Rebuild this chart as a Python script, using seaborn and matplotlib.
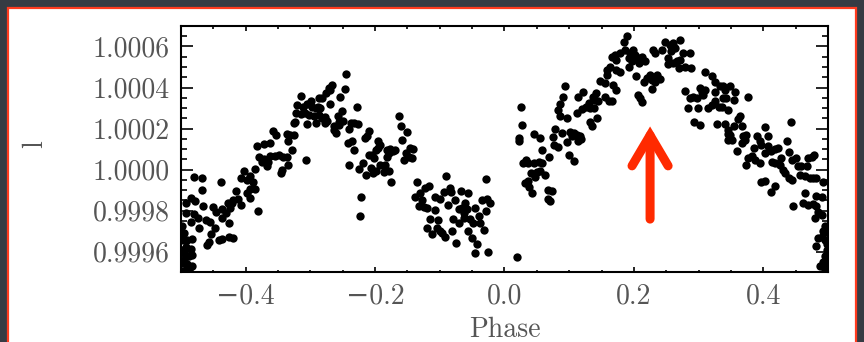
import numpy as np
import pandas as pd
import matplotlib
matplotlib.use("Agg")
import matplotlib.pyplot as plt
from matplotlib.ticker import MultipleLocator, FuncFormatter
from matplotlib.patches import Rectangle
import seaborn as sns

# Folded light curve: orbital phase and departure of the flux from unity (units of 1e-4)
phase_a = [-0.358, -0.353, -0.336, -0.382, -0.372, -0.363, -0.380, -0.371, -0.362, -0.354,
           -0.349, -0.343, -0.336, -0.375, -0.367, -0.366, -0.346, -0.344, -0.334, -0.402,
           -0.385, -0.407, -0.398, -0.393, -0.389, -0.394, -0.386, -0.398, -0.393, -0.415,
           -0.412, -0.419, -0.421, -0.408, -0.480, -0.467, -0.438, -0.468, -0.484, -0.478,
           -0.466, -0.493, -0.451, -0.446, -0.437, -0.428, -0.425, -0.431, -0.381, -0.493,
           -0.480, -0.473, -0.485, -0.461, -0.455, -0.437, -0.426, -0.447, -0.472, -0.454,
           -0.442, -0.437, -0.426, -0.420, -0.496, -0.491, -0.483, -0.493, -0.485, -0.460,
           -0.457, -0.496, -0.488, -0.483, -0.496, -0.491, -0.483, -0.493, -0.497, -0.488,
           -0.498, -0.497, -0.499, -0.499, -0.499]
dflux_a = [1.89, 1.69, 1.74, 1.17, 1.24, 1.28, 0.63, 0.52, 0.67, 0.68,
           0.72, 0.60, 0.60, 0.39, 0.15, 0.36, -0.18, -0.02, 0.23, -0.05,
           0.02, -0.42, -0.50, -0.31, -0.59, -0.96, -0.94, -1.15, -1.40, -1.07,
           -1.43, -1.48, -1.64, -1.72, -0.37, -0.42, -0.62, -1.02, -1.40, -1.56,
           -1.76, -1.64, -1.85, -2.05, -1.93, -1.64, -1.89, -2.13, -2.00, -2.13,
           -2.18, -2.37, -2.54, -2.46, -2.54, -2.37, -2.62, -2.86, -2.86, -3.14,
           -3.43, -3.40, -3.27, -3.32, -3.11, -3.43, -3.38, -3.76, -3.89, -3.67,
           -3.56, -4.08, -4.24, -4.16, -4.41, -4.60, -4.73, -4.89, -4.95, -4.90,
           -2.78, -3.43, -3.95, -4.55, -3.20]

phase_b = [-0.245, -0.267, -0.272, -0.276, -0.269, -0.247, -0.255, -0.282, -0.286, -0.315,
           -0.321, -0.312, -0.305, -0.299, -0.297, -0.292, -0.288, -0.285, -0.269, -0.228,
           -0.322, -0.314, -0.308, -0.302, -0.295, -0.287, -0.282, -0.277, -0.274, -0.324,
           -0.326, -0.305, -0.291, -0.278, -0.257, -0.251, -0.256, -0.250, -0.263, -0.256,
           -0.260, -0.264, -0.238, -0.233, -0.227, -0.241, -0.331, -0.326, -0.334, -0.328,
           -0.307, -0.242, -0.236, -0.233, -0.241, -0.209, -0.215, -0.212, -0.196, -0.192,
           -0.199, -0.210, -0.205, -0.195, -0.201, -0.219, -0.225, -0.214, -0.207, -0.204,
           -0.199, -0.192, -0.182, -0.177, -0.173, -0.170, -0.182, -0.179, -0.184, -0.187,
           -0.179, -0.175, -0.222, -0.223]
dflux_b = [4.67, 4.13, 3.97, 3.72, 3.89, 3.92, 3.56, 3.51, 3.48, 3.59,
           3.15, 3.07, 3.20, 3.32, 3.07, 2.99, 3.07, 2.99, 3.19, 3.07,
           2.75, 2.72, 2.78, 2.67, 2.62, 2.67, 2.50, 2.55, 2.39, 2.34,
           2.26, 2.21, 2.26, 2.26, 2.62, 2.83, 2.34, 2.37, 2.10, 2.15,
           1.80, 1.93, 2.26, 2.26, 2.23, 1.97, 1.69, 1.69, 1.37, 0.96,
           0.46, 1.28, 1.37, 0.93, 0.20, 1.90, 1.56, 1.61, 1.40, 1.20,
           0.96, 0.72, 0.72, 1.04, 0.55, 0.34, 0.02, -0.26, 0.07, -0.18,
           -0.07, 0.23, 0.96, 0.99, 0.88, 0.96, 0.63, 0.80, 0.23, -0.10,
           -0.07, -0.59, -1.33, -2.26]

phase_c = [-0.163, -0.160, -0.151, -0.158, -0.153, -0.146, -0.141, -0.148, -0.156, -0.143,
           -0.091, -0.029, -0.135, -0.117, -0.123, -0.130, -0.138, -0.128, -0.132, -0.125,
           -0.120, -0.108, -0.108, -0.099, -0.094, -0.084, -0.082, -0.088, -0.077, -0.068,
           -0.056, -0.071, -0.066, -0.061, -0.058, -0.063, -0.045, -0.035, -0.027, -0.022,
           -0.029, -0.040, -0.115, -0.103, -0.120, -0.112, -0.105, -0.099, -0.097, -0.092,
           -0.081, -0.079, -0.071, -0.063, -0.053, -0.049, -0.038, -0.057, -0.032, -0.051,
           -0.043, -0.075, -0.046, -0.026]
dflux_c = [2.59, 2.12, 1.85, 1.45, 0.80, 1.04, 0.99, 0.63, 0.47, 0.55,
           -0.34, -0.47, -0.62, -0.80, -0.88, -1.15, -1.35, -1.48, -1.76, -1.84,
           -1.89, -1.32, -1.97, -1.45, -1.12, -0.91, -1.11, -1.72, -1.51, -1.04,
           -1.15, -1.93, -1.89, -1.64, -1.93, -2.10, -1.89, -1.48, -1.43, -1.64,
           -2.00, -2.26, -2.41, -2.46, -2.86, -3.14, -2.83, -2.98, -3.11, -3.27,
           -2.98, -2.41, -2.62, -2.37, -2.41, -2.62, -2.62, -3.01, -2.94, -3.35,
           -3.63, -3.58, -4.08, -4.03]

phase_d = [0.020, 0.025, 0.027, 0.022, 0.023, 0.046, 0.055, 0.058, 0.028, 0.033,
           0.037, 0.045, 0.053, 0.058, 0.069, 0.041, 0.050, 0.055, 0.063, 0.047,
           0.031, 0.036, 0.038, 0.043, 0.067, 0.073, 0.067, 0.071, 0.094, 0.091,
           0.086, 0.083, 0.086, 0.096, 0.078, 0.075, 0.089, 0.077, 0.082, 0.096,
           0.099, 0.107, 0.101, 0.107, 0.112, 0.117, 0.119, 0.114, 0.104, 0.112,
           0.113, 0.122, 0.120, 0.126, 0.130, 0.132, 0.139, 0.137, 0.140, 0.144,
           0.141, 0.155, 0.161, 0.166, 0.132, 0.135, 0.143, 0.148, 0.155, 0.158,
           0.163, 0.158, 0.168, 0.166, 0.171, 0.173, 0.173, 0.173]
dflux_d = [-4.29, 3.07, 2.15, 1.53, 1.40, 1.74, 1.56, 0.93, 0.31, 0.47,
           0.31, 0.34, 0.39, 0.31, 0.60, -0.18, -0.13, -0.05, -0.26, -0.39,
           -0.67, -0.54, -0.83, -1.15, -0.99, -1.04, -1.45, -1.56, 4.08, 3.56,
           3.20, 2.91, 2.59, 2.50, 1.97, 1.58, 1.77, 1.20, 1.09, 1.32,
           0.72, 0.41, 1.85, 1.77, 1.69, 1.61, 1.48, 1.37, 1.61, 2.75,
           3.56, 3.80, 2.94, 3.07, 3.24, 2.99, 2.99, 3.56, 3.40, 3.32,
           3.72, 3.56, 3.32, 3.32, 2.34, 2.10, 2.50, 4.34, 4.21, 4.62,
           5.02, 4.86, 4.13, 5.51, 5.59, 5.35, 4.86, 3.89]

phase_e = [0.189, 0.184, 0.186, 0.179, 0.194, 0.199, 0.201, 0.192, 0.197, 0.207,
           0.213, 0.217, 0.208, 0.192, 0.179, 0.230, 0.233, 0.243, 0.248, 0.256,
           0.261, 0.264, 0.271, 0.258, 0.253, 0.252, 0.261, 0.266, 0.271, 0.269,
           0.279, 0.276, 0.286, 0.288, 0.204, 0.215, 0.220, 0.225, 0.228, 0.235,
           0.240, 0.233, 0.228, 0.206, 0.210, 0.213, 0.279, 0.287, 0.292, 0.302,
           0.305, 0.307, 0.310, 0.297, 0.284, 0.299, 0.293, 0.302, 0.310, 0.320,
           0.325, 0.333, 0.338, 0.341, 0.325, 0.314, 0.320, 0.325, 0.331, 0.336,
           0.338, 0.343, 0.328, 0.341, 0.345, 0.345]
dflux_e = [6.49, 6.24, 5.84, 5.67, 5.67, 5.84, 5.59, 5.43, 5.27, 5.43,
           5.51, 5.27, 5.19, 5.02, 4.78, 5.84, 5.67, 5.84, 6.24, 6.08,
           6.16, 5.92, 6.33, 5.80, 5.43, 5.15, 5.19, 5.27, 5.35, 4.94,
           5.02, 5.67, 5.67, 4.94, 4.54, 4.29, 4.46, 4.62, 4.37, 4.62,
           4.41, 4.29, 3.92, 3.64, 3.48, 3.27, 3.85, 3.48, 3.56, 3.97,
           3.80, 3.64, 3.89, 3.48, 2.99, 2.99, 2.34, 2.18, 4.78, 4.54,
           4.29, 4.08, 4.05, 3.89, 3.80, 2.99, 3.15, 3.32, 3.07, 3.07,
           3.48, 3.48, 2.21, 2.21, 1.74, 1.45]

phase_f = [0.349, 0.356, 0.354, 0.377, 0.346, 0.364, 0.361, 0.354, 0.367, 0.346,
           0.349, 0.351, 0.369, 0.374, 0.372, 0.367, 0.359, 0.403, 0.407, 0.390,
           0.395, 0.397, 0.385, 0.382, 0.377, 0.374, 0.387, 0.395, 0.403, 0.408,
           0.412, 0.418, 0.423, 0.428, 0.418, 0.413, 0.436, 0.439, 0.443, 0.426,
           0.431, 0.433, 0.439, 0.444, 0.444, 0.451, 0.454, 0.459, 0.467, 0.469,
           0.475, 0.479, 0.457, 0.464, 0.472, 0.477, 0.482, 0.493, 0.397, 0.403,
           0.418, 0.412, 0.446, 0.464, 0.462, 0.469, 0.477, 0.482, 0.485, 0.480,
           0.490, 0.481, 0.490, 0.495, 0.493, 0.485, 0.482, 0.495, 0.498, 0.495,
           0.493, 0.488, 0.498, 0.495, 0.490, 0.499, 0.499, 0.499]
dflux_f = [4.05, 3.80, 3.40, 3.56, 2.91, 2.59, 2.46, 2.10, 2.10, 1.93,
           1.69, 1.45, 1.61, 1.69, 1.45, 1.28, 0.88, 2.05, 1.61, 1.64,
           1.41, 1.20, 1.04, 0.67, 0.55, 0.23, 0.47, 0.31, 0.80, 1.15,
           0.88, 0.99, 1.04, 0.55, 0.31, 0.39, 1.37, 0.83, 2.31, 0.23,
           -0.02, -0.18, -0.42, -0.50, 0.47, 0.55, 0.15, 0.15, 0.15, 0.55,
           0.63, 0.72, -0.26, -0.34, -0.42, -0.42, -0.42, -0.59, -0.63, -0.54,
           -0.80, -1.11, -1.80, -1.15, -1.61, -1.72, -1.67, -1.80, -2.05, -2.37,
           -2.21, -1.28, -1.32, -2.78, -3.02, -3.35, -3.72, -3.43, -3.92, -4.24,
           -4.49, -4.70, -4.81, -4.92, -3.27, -3.05, -3.65, -4.40]

# Marker for the feature near phase 0.22
arrow_phase = 0.225
arrow_tail, arrow_head = 0.999758, 1.00021

phase = phase_a + phase_b + phase_c + phase_d + phase_e + phase_f
dflux = dflux_a + dflux_b + dflux_c + dflux_d + dflux_e + dflux_f
df = pd.DataFrame({"Phase": phase, "l": 1.0 + np.array(dflux) * 1e-4})

sns.set_style("ticks")
plt.rcParams["font.family"] = ["cmr10", "DejaVu Sans"]
plt.rcParams["axes.unicode_minus"] = True

W, H = 864, 342
TXT = "#555555"
fig = plt.figure(figsize=(W / 100, H / 100), dpi=100, facecolor="#363b43")

# White slide panel with a red frame, kept behind the axes
panel = Rectangle((8 / W, -0.05), 848 / W, 1.05 - 8 / H, transform=fig.transFigure,
                  facecolor="white", edgecolor="#ff3b1f", linewidth=1.6, zorder=-10)
fig.patches.append(panel)

ax = fig.add_axes([181 / W, 70 / H, 647 / W, 246 / H])
ax.set_zorder(5)
ax.set_facecolor("white")

sns.scatterplot(data=df, x="Phase", y="l", color="black", s=36, linewidth=0,
                legend=False, ax=ax)

ax.set_xlim(-0.5, 0.5)
ax.set_ylim(0.9995, 1.0007)

ax.xaxis.set_major_locator(MultipleLocator(0.2))
ax.xaxis.set_minor_locator(MultipleLocator(0.05))
ax.yaxis.set_major_locator(MultipleLocator(0.0002))
ax.yaxis.set_minor_locator(MultipleLocator(0.00005))
ax.xaxis.set_major_formatter(FuncFormatter(lambda v, p: f"{v:.1f}".replace("-", "\u2212")))
ax.yaxis.set_major_formatter(FuncFormatter(lambda v, p: f"{v:.4f}"))

ax.tick_params(which="both", direction="in", top=True, right=True, width=1.2,
               color="black", labelsize=20, labelcolor=TXT, pad=8)
ax.tick_params(axis="y", which="major", length=8.6)
ax.tick_params(axis="y", which="minor", length=4.3)
ax.tick_params(axis="x", which="major", length=3.3)
ax.tick_params(axis="x", which="minor", length=1.8)
for sp in ax.spines.values():
    sp.set_linewidth(1.5)
    sp.set_color("black")

ax.set_xlabel("Phase", fontsize=20, color=TXT, labelpad=5)
ax.set_ylabel("l", fontsize=20, color=TXT, rotation=90)
ax.yaxis.set_label_coords(-0.205, 0.52)

ax.annotate("", xy=(arrow_phase, arrow_head), xytext=(arrow_phase, arrow_tail),
            arrowprops=dict(arrowstyle="->, head_length=1.1, head_width=0.65",
                            mutation_scale=20, color="#ff2a00", lw=6.5,
                            shrinkA=0, shrinkB=0, joinstyle="miter"))

fig.savefig("out.png", dpi=100, facecolor=fig.get_facecolor())
